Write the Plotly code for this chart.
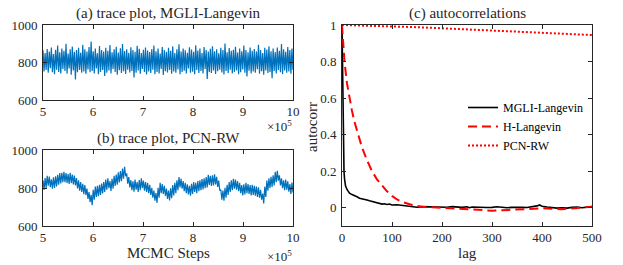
import numpy as np
import plotly.graph_objects as go

# ---------------- data ----------------
# (a) trace plot, MGLI-Langevin: alternating high/low samples of the dense trace
TRACE_A = [
    865, 752, 850, 760, 872, 745, 858, 770, 880, 748, 845, 738, 868, 762, 890, 750, 855, 742, 875, 765,
    862, 755, 900, 740, 848, 768, 870, 735, 885, 758, 857, 710, 866, 748, 878, 760, 852, 745, 895, 752,
    870, 740, 858, 763, 882, 748, 912, 755, 860, 742, 874, 768, 849, 737, 888, 750, 866, 760, 858, 728,
    879, 746, 862, 757, 893, 741, 855, 766, 871, 749, 884, 735, 853, 759, 876, 744, 898, 753, 861, 739,
    870, 762, 852, 747, 881, 755, 866, 720, 857, 745, 889, 758, 873, 740, 850, 765, 868, 749, 880, 736,
    864, 752, 856, 744, 872, 761, 891, 738, 860, 750, 875, 742, 848, 766, 883, 733, 866, 754, 857, 747,
    878, 760, 862, 740, 886, 752, 851, 745, 870, 763, 897, 738, 858, 749, 874, 756, 865, 742, 852, 768,
    881, 745, 869, 751, 857, 737, 892, 760, 864, 744, 875, 755, 850, 741, 883, 765, 867, 712, 858, 750,
    873, 744, 886, 758, 860, 739, 871, 753, 849, 762, 879, 747, 866, 736, 901, 755, 855, 744, 877, 761,
    862, 742, 868, 750, 884, 758, 853, 737, 875, 748, 860, 763, 890, 745, 867, 725, 855, 756, 880, 741,
    863, 752, 872, 746, 858, 764, 895, 740, 866, 753, 851, 735, 878, 758, 869, 744, 887, 750, 860, 716,
    874, 755, 856, 742, 880, 760, 863, 748, 898, 738, 870, 757, 857, 745, 883, 752, 866, 740, 875, 760,
]

# (b) trace plot, PCN-RW: alternating high/low samples of the wandering trace
TRACE_B = [
    840, 790, 852, 800, 864, 812, 860, 805, 846, 796, 856, 800, 862, 808, 870, 818, 878, 824, 880, 830,
    885, 831, 879, 826, 874, 821, 880, 826, 871, 819, 866, 813, 852, 798, 840, 786, 831, 779, 822, 768,
    816, 763, 797, 743, 779, 726, 764, 709, 791, 739, 807, 753, 811, 757, 817, 763, 824, 771, 831, 779,
    845, 791, 851, 799, 837, 784, 849, 796, 864, 811, 871, 818, 882, 829, 889, 836, 902, 849, 912, 862,
    877, 823, 857, 803, 841, 789, 835, 781, 845, 791, 831, 779, 842, 789, 851, 799, 839, 786, 831, 779,
    827, 773, 817, 763, 801, 749, 787, 733, 774, 722, 801, 749, 827, 773, 821, 769, 812, 759, 797, 743,
    786, 734, 799, 746, 815, 761, 827, 773, 841, 789, 857, 803, 849, 796, 837, 783, 827, 773, 819, 766,
    811, 759, 822, 769, 831, 779, 827, 773, 837, 783, 841, 789, 847, 793, 851, 799, 857, 803, 869, 816,
    864, 811, 867, 813, 872, 819, 859, 806, 839, 786, 791, 739, 787, 733, 801, 749, 817, 763, 831, 779,
    841, 789, 849, 796, 845, 791, 837, 783, 827, 773, 815, 761, 819, 766, 827, 773, 821, 769, 815, 761,
    817, 763, 811, 759, 807, 753, 803, 749, 791, 739, 771, 719, 807, 753, 839, 786, 851, 799, 859, 806,
    867, 813, 885, 831, 891, 839, 867, 813, 851, 799, 841, 789, 845, 791, 835, 781, 821, 769, 829, 776,
]
STEP_START = 5e5
STEP_END = 10e5

# (c) autocorrelations
LAG_MGLI = [0, 1, 2, 3, 4, 5, 7, 10, 15, 20, 25, 30, 35, 40, 45, 50, 55, 60, 65, 70, 75, 80, 85, 90,
            95, 100, 110, 120, 130, 140, 150, 160, 170, 180, 190, 200, 210, 220, 230, 240, 250, 255,
            260, 270, 280, 290, 300, 310, 320, 330, 340, 350, 360, 370, 380, 390, 395, 400, 410, 420,
            430, 440, 450, 460, 470, 480, 490, 500]
ACF_MGLI = [1.0, 0.7, 0.45, 0.3, 0.2, 0.16, 0.12, 0.1, 0.08, 0.072, 0.068, 0.06, 0.052, 0.05, 0.045,
            0.042, 0.038, 0.035, 0.03, 0.028, 0.022, 0.02, 0.022, 0.018, 0.02, 0.015, 0.016, 0.012,
            0.008, 0.004, 0.003, 0.006, 0.005, 0.004, 0.002, 0.004, 0.003, 0.006, 0.004, 0.002, 0.005,
            0.0, 0.004, 0.002, 0.0, 0.001, 0.002, 0.005, 0.003, 0.0, 0.002, 0.004, 0.002, 0.001, 0.004,
            0.01, 0.015, 0.008, 0.004, 0.0, -0.002, 0.0, -0.002, 0.002, 0.004, 0.0, 0.002, 0.006]

LAG_H = [0, 2, 5, 10, 15, 20, 25, 30, 40, 50, 60, 70, 80, 90, 100, 110, 120, 130, 140, 150, 160, 180,
         200, 220, 240, 260, 280, 300, 320, 340, 360, 380, 400, 420, 440, 460, 480, 500]
ACF_H = [1.0, 0.93, 0.8, 0.68, 0.6, 0.53, 0.47, 0.42, 0.33, 0.26, 0.2, 0.155, 0.12, 0.09, 0.065, 0.045,
         0.032, 0.022, 0.015, 0.01, 0.006, 0.003, 0.0, -0.005, -0.01, -0.013, -0.015, -0.016, -0.014,
         -0.012, -0.008, -0.005, -0.003, -0.006, -0.008, -0.004, 0.0, 0.005]

LAG_PCN = [0, 50, 100, 150, 200, 250, 300, 350, 400, 450, 500]
ACF_PCN = [1.0, 0.997, 0.993, 0.988, 0.982, 0.976, 0.969, 0.962, 0.956, 0.95, 0.945]

STEP_TICKS = [5e5, 6e5, 7e5, 8e5, 9e5, 10e5]
STEP_TICK_LABELS = ["5", "6", "7", "8", "9", "10"]
TRACE_Y_TICKS = [600, 800, 1000]
ACF_Y_TICKS = [0, 0.2, 0.4, 0.6, 0.8, 1]
ACF_Y_TICK_LABELS = ["0", "0.2", "0.4", "0.6", "0.8", "1"]
LAG_TICKS = [0, 100, 200, 300, 400, 500]

# ---------------- figure ----------------
W, H = 623, 265
FONT = "Liberation Serif, Times New Roman, DejaVu Serif, serif"
AXC = "#262626"
BLUE = "#0072BD"

steps_a = np.linspace(STEP_START, STEP_END, len(TRACE_A))
steps_b = np.linspace(STEP_START, STEP_END, len(TRACE_B))

fig = go.Figure()
fig.add_trace(go.Scatter(x=steps_a, y=TRACE_A, mode="lines", line=dict(color=BLUE, width=1.2),
                         xaxis="x", yaxis="y", showlegend=False))
fig.add_trace(go.Scatter(x=steps_b, y=TRACE_B, mode="lines", line=dict(color=BLUE, width=1.2),
                         xaxis="x2", yaxis="y2", showlegend=False))
fig.add_trace(go.Scatter(x=LAG_MGLI, y=ACF_MGLI, mode="lines", name="MGLI-Langevin",
                         line=dict(color="black", width=1.6), xaxis="x3", yaxis="y3"))
fig.add_trace(go.Scatter(x=LAG_H, y=ACF_H, mode="lines", name="H-Langevin",
                         line=dict(color="#FF0000", width=2, dash="9px,5px"), xaxis="x3", yaxis="y3"))
fig.add_trace(go.Scatter(x=LAG_PCN, y=ACF_PCN, mode="lines", name="PCN-RW",
                         line=dict(color="#FF0000", width=2, dash="2px,2px"), xaxis="x3", yaxis="y3"))


def px_x(p):
    return p / W


def px_y(p):
    return 1 - p / H


common = dict(showline=True, linecolor=AXC, linewidth=1, mirror="ticks", ticks="inside",
              ticklen=4, tickcolor=AXC, tickwidth=1, showgrid=False, zeroline=False,
              automargin=False, tickfont=dict(family=FONT, size=13, color=AXC))

fig.update_layout(
    width=W, height=H, margin=dict(l=0, r=0, t=0, b=0),
    paper_bgcolor="white", plot_bgcolor="white",
    font=dict(family=FONT, size=13, color=AXC),
    xaxis=dict(domain=[px_x(43), px_x(293)], anchor="y", range=[STEP_START, STEP_END],
               tickvals=STEP_TICKS, ticktext=STEP_TICK_LABELS, ticklabelstandoff=-1, **common),
    yaxis=dict(domain=[px_y(100), px_y(25)], anchor="x", range=[600, 1000],
               tickvals=TRACE_Y_TICKS, ticklabelstandoff=2, **common),
    xaxis2=dict(domain=[px_x(43), px_x(293)], anchor="y2", range=[STEP_START, STEP_END],
                tickvals=STEP_TICKS, ticktext=STEP_TICK_LABELS, ticklabelstandoff=-1, **common),
    yaxis2=dict(domain=[px_y(226), px_y(150)], anchor="x2", range=[600, 1000],
                tickvals=TRACE_Y_TICKS, ticklabelstandoff=2, **common),
    xaxis3=dict(domain=[px_x(342), px_x(592)], anchor="y3", range=[0, 500],
                tickvals=LAG_TICKS, ticklabelstandoff=-1, **common),
    yaxis3=dict(domain=[px_y(226), px_y(25)], anchor="x3", range=[-0.1, 1],
                tickvals=ACF_Y_TICKS, ticktext=ACF_Y_TICK_LABELS, ticklabelstandoff=2, **common),
    legend=dict(x=px_x(463), y=px_y(93), xanchor="left", yanchor="top",
                bgcolor="rgba(255,255,255,0)", borderwidth=0, itemwidth=30,
                font=dict(family=FONT, size=12, color="black"), tracegroupgap=0),
    showlegend=True,
)

ann = [
    dict(text="(a) trace plot, MGLI-Langevin", x=px_x(168), y=px_y(14), size=15),
    dict(text="(b) trace plot, PCN-RW", x=px_x(168), y=px_y(138), size=15),
    dict(text="(c) autocorrelations", x=px_x(467), y=px_y(14), size=15),
    dict(text="MCMC Steps", x=px_x(168), y=px_y(253), size=15),
    dict(text="lag", x=px_x(467), y=px_y(253), size=15),
]
for a in ann:
    fig.add_annotation(text=a["text"], x=a["x"], y=a["y"], xref="paper", yref="paper",
                       xanchor="center", yanchor="middle", showarrow=False,
                       font=dict(family=FONT, size=a["size"], color=AXC))

fig.add_annotation(text="autocorr", x=px_x(312), y=px_y(127), xref="paper", yref="paper",
                   xanchor="center", yanchor="middle", textangle=-90, showarrow=False,
                   font=dict(family=FONT, size=15, color=AXC))
for yy in (126, 256):
    fig.add_annotation(text="×10<sup>5</sup>", x=px_x(294), y=px_y(yy), xref="paper", yref="paper",
                       xanchor="right", yanchor="middle", showarrow=False,
                       font=dict(family=FONT, size=13, color=AXC))

fig.write_html("out.html", config={"displayModeBar": False},
               post_script="document.body.style.margin='0px';")
